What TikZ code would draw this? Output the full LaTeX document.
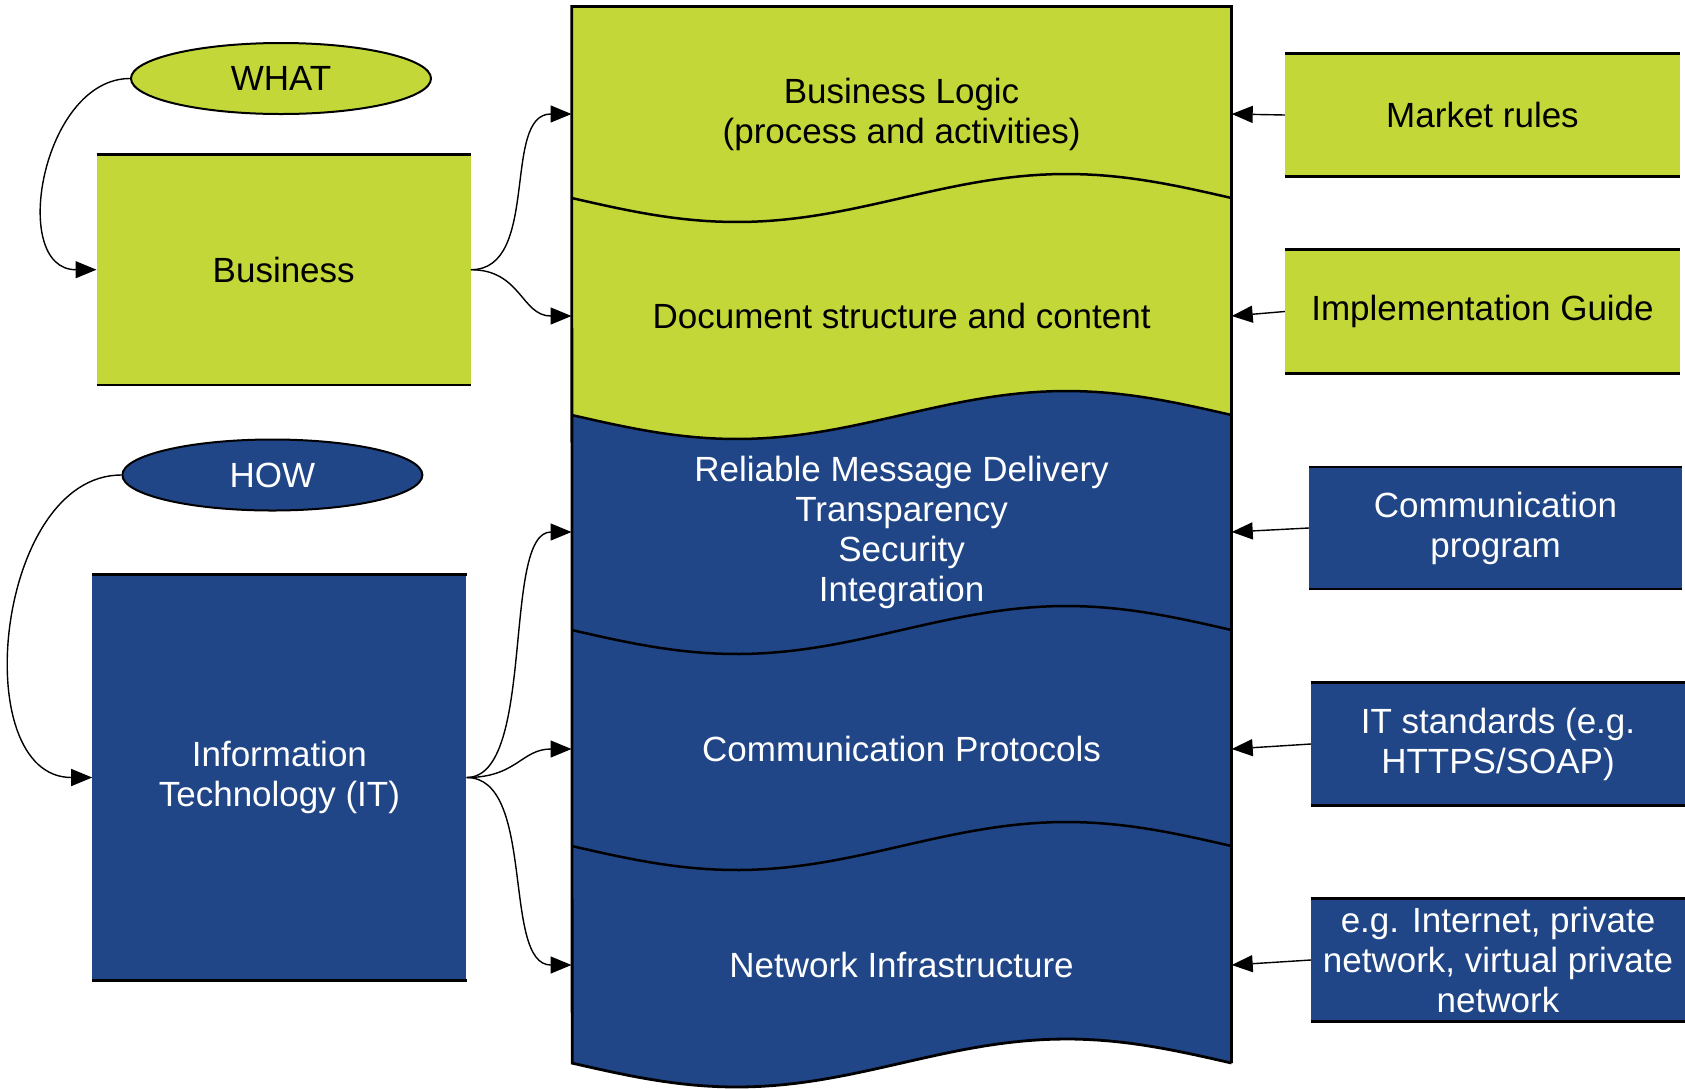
\documentclass[tikz,border=0pt]{standalone}
\usepackage{fontspec}
\setmainfont{Liberation Sans}
\usetikzlibrary{arrows.meta,shapes.geometric}
\definecolor{mylime}{RGB}{195,215,57}
\definecolor{mynavy}{RGB}{32,70,135}
\begin{document}
\begin{tikzpicture}[x=1pt,y=-1pt,
  every node/.style={font=\fontsize{35}{40}\selectfont, align=center, inner sep=0pt},
  gbox/.style={rectangle, fill=mylime, text=black},
  bbox/.style={rectangle, fill=mynavy, text=white},
  gell/.style={ellipse, draw=black, line width=2pt, fill=mylime, text=black, minimum width=300pt, minimum height=71pt},
  bell/.style={ellipse, draw=black, line width=2pt, fill=mynavy, text=white, minimum width=300pt, minimum height=71pt},
  sec/.style={minimum width=659.8pt, minimum height=40pt},
  conn/.style={-{Triangle[length=21pt,width=17pt]}, line width=1.4pt},
  rulel/.style={line width=2.8pt},
  wave/.style={line width=2.5pt}
]
\useasboundingbox (0,0) rectangle (1685,1088);
\def\xL{571.7}
\def\xR{1231.5}
\def\W{659.8}
\def\A{24}
% column fills
\fill[mylime] (\xL,6.5) -- (\xR,6.5) -- (\xR,415)
  -- plot[domain=1:0,samples=60] ({\xL+\W*\x},{415+\A*sin(360*\x)}) -- cycle;
\fill[mynavy] plot[domain=0:1,samples=60] ({\xL+\W*\x},{415+\A*sin(360*\x)})
  -- (\xR,1063)
  -- plot[domain=1:0,samples=60] ({\xL+\W*\x},{1063+\A*sin(360*\x)}) -- cycle;
% inner boundaries
\foreach \yy in {198,415,630,846}
  \draw[wave] plot[domain=0:1,samples=60] ({\xL+\W*\x},{\yy+\A*sin(360*\x)});
% outline
\draw[line width=2.8pt, line join=miter]
  plot[domain=1:0,samples=60] ({\xL+\W*\x},{1063+\A*sin(360*\x)})
  -- (\xL,6.5) -- (\xR,6.5) -- (\xR,1063);
% column sections
\node[sec, text=black] (s1) at (901.6,114) {Business Logic\\(process and activities)};
\node[sec, text=black] (s2) at (901.6,316) {Document structure and content};
\node[sec, text=white] (s3) at (901.6,532) {Reliable Message Delivery\\Transparency\\Security\\Integration};
\node[sec, text=white] (s4) at (901.6,749) {Communication Protocols};
\node[sec, text=white] (s5) at (901.6,965) {Network Infrastructure};
% left side
\node[gell] (what) at (281,78.5) {WHAT};
\node[bell] (how) at (272.4,475) {HOW};
\node[gbox, minimum width=374pt, minimum height=230pt] (biz) at (283.7,269.7) {Business};
\node[bbox, minimum width=374pt, minimum height=405pt] (it) at (279.4,777.5) {Information\\Technology (IT)};
% right side
\node[gbox, minimum width=395pt, minimum height=122.5pt] (mr) at (1482.5,115) {Market rules};
\node[gbox, minimum width=395pt, minimum height=123pt] (ig) at (1482.5,311.5) {Implementation Guide};
\node[bbox, minimum width=373pt, minimum height=121.5pt] (cp) at (1495.5,528) {Communication\\program};
\node[bbox, minimum width=374pt, minimum height=122pt] (its) at (1498,744) {IT standards (e.g.\\HTTPS/SOAP)};
\node[bbox, minimum width=374pt, minimum height=122pt] (net) at (1498,960) {e.g. Internet, private\\network, virtual private\\network};
% top/bottom rules of boxes
\foreach \n in {biz,it,mr,ig,cp,its,net}
  \draw[rulel] (\n.north west) -- (\n.north east) (\n.south west) -- (\n.south east);
% connectors
\draw[conn] (what.west) .. controls +(-88,0) and +(-88,0) .. (biz.west);
\draw[conn] (how.west) .. controls +(-126,0) and +(-126,0) .. (it.west);
\draw[conn] (biz.east) .. controls +(70,0) and +(-70,0) .. (s1.west);
\draw[conn] (biz.east) .. controls +(50,0) and +(-50,0) .. (s2.west);
\draw[conn] (it.east) .. controls +(70,0) and +(-70,0) .. (s3.west);
\draw[conn] (it.east) .. controls +(50,0) and +(-50,0) .. (s4.west);
\draw[conn] (it.east) .. controls +(70,0) and +(-70,0) .. (s5.west);
\draw[conn] (mr.west) -- (s1.east);
\draw[conn] (ig.west) -- (s2.east);
\draw[conn] (cp.west) -- (s3.east);
\draw[conn] (its.west) -- (s4.east);
\draw[conn] (net.west) -- (s5.east);
\end{tikzpicture}
\end{document}
